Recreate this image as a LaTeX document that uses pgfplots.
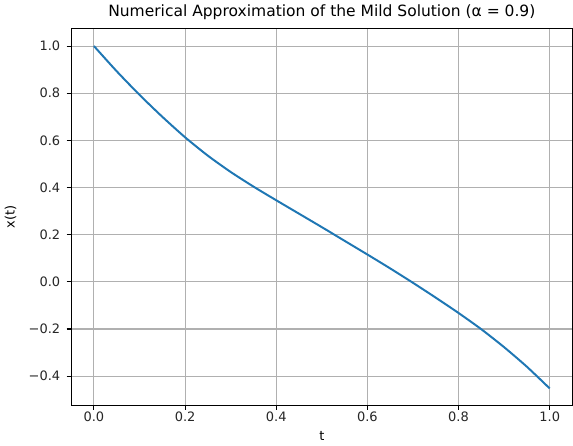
\documentclass[border=0pt]{standalone}
\usepackage{fontspec}
\setmainfont{DejaVu Sans}
\usepackage{pgfplots}
\pgfplotsset{compat=1.18}
\definecolor{mplblue}{HTML}{1F77B4}
\definecolor{mplgrid}{HTML}{B0B0B0}
\begin{document}
\begin{tikzpicture}
\begin{axis}[
  scale only axis,
  width=355.6pt, height=267pt,
  xmin=-0.05, xmax=1.05,
  ymin=-0.5236, ymax=1.0726,
  xtick={0,0.2,0.4,0.6,0.8,1.0},
  xticklabels={0.0,0.2,0.4,0.6,0.8,1.0},
  ytick={-0.4,-0.2,0,0.2,0.4,0.6,0.8,1.0},
  yticklabels={−0.4,−0.2,0.0,0.2,0.4,0.6,0.8,1.0},
  xtick pos=bottom, ytick pos=left,
  tick align=outside,
  major tick length=3.2pt,
  tick style={black, line width=0.75pt},
  axis line style={black, line width=0.75pt},
  grid=major,
  major grid style={mplgrid, line width=0.75pt},
  every tick label/.append style={font=\fontsize{9.2}{11}\selectfont, text=black!85},
  xticklabel style={yshift=2pt},
  yticklabel style={xshift=-1pt},
  xlabel={t},
  ylabel={x(t)},
  label style={font=\fontsize{9.2}{11}\selectfont},
  xlabel style={yshift=0pt},
  ylabel style={yshift=2pt},
  title={Numerical Approximation of the Mild Solution (α = 0.9)},
  title style={font=\fontsize{11}{13}\selectfont, yshift=-3pt},
]
\addplot[mplblue, line width=1.4pt, smooth, tension=0.4] table {
t x
0.00 1.000
0.05 0.893
0.10 0.793
0.15 0.700
0.20 0.613
0.25 0.535
0.30 0.466
0.35 0.404
0.40 0.346
0.45 0.289
0.50 0.232
0.55 0.174
0.60 0.116
0.65 0.057
0.70 -0.004
0.75 -0.067
0.80 -0.132
0.85 -0.201
0.90 -0.277
0.95 -0.360
1.00 -0.452
};
\end{axis}
\end{tikzpicture}
\end{document}
